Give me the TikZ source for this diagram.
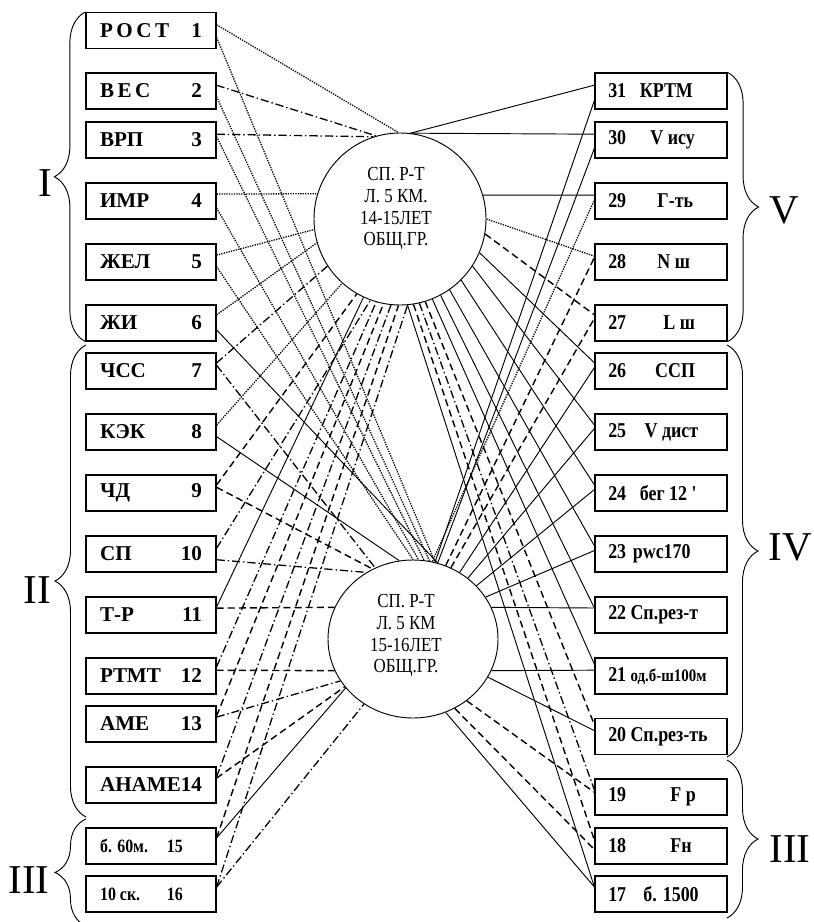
\documentclass[tikz,border=0pt]{standalone}
\usepackage{fontspec}
\setmainfont{Liberation Serif}
\newfontfamily\narrowfont[FakeStretch=0.85]{Liberation Serif}
\usetikzlibrary{shapes.geometric,decorations.pathreplacing}
\newcommand{\lefttxt}[2]{\makebox[87pt]{#1\hfill #2}}
\newcommand{\righttxt}[3]{\makebox[90pt][l]{\makebox[#1][l]{#2}#3}}

\begin{document}
\begin{tikzpicture}[x=0.03cm, y=-0.03cm,
  lbox/.style={draw, line width=1pt, minimum width=3.9cm, minimum height=1.08cm, inner sep=0pt, font=\fontsize{18}{20}\selectfont\bfseries},
  rbox/.style={draw, line width=1pt, minimum width=3.96cm, minimum height=1.08cm, inner sep=0pt, font=\narrowfont\fontsize{18}{20}\selectfont\bfseries},
  ctext/.style={align=center, inner sep=0pt, font=\narrowfont\fontsize{17}{18.5}\selectfont},
  grouplbl/.style={inner sep=0pt, font=\fontsize{35}{40}\selectfont},
  brc/.style={decorate, decoration={brace, amplitude=0.93cm}, line width=0.8pt},
  solln/.style={line width=0.8pt},
  dotln/.style={line width=1.1pt, dash pattern=on 1.1pt off 1pt},
  dashln/.style={line width=1.2pt, dash pattern=on 6pt off 3.5pt},
  ddln/.style={line width=1.1pt, dash pattern=on 7pt off 2.5pt on 1.2pt off 2.5pt}]
\useasboundingbox (0,0) rectangle (814,922);

% left column
\node[lbox] (L1) at (151,30.5) {\lefttxt{Р\,О\,С\,Т}{1}};
\node[lbox] (L2) at (151,91) {\lefttxt{В\,Е\,С}{2}};
\node[lbox] (L3) at (151,140) {\lefttxt{ВРП}{3}};
\node[lbox] (L4) at (151,201) {\lefttxt{ИМР}{4}};
\node[lbox] (L5) at (151,262) {\lefttxt{ЖЕЛ}{5}};
\node[lbox] (L6) at (151,323) {\lefttxt{ЖИ}{6}};
\node[lbox] (L7) at (151,371) {\lefttxt{ЧСС}{7}};
\node[lbox] (L8) at (151,432) {\lefttxt{КЭК}{8}};
\node[lbox] (L9) at (151,493) {\lefttxt{ЧД}{9}};
\node[lbox] (L10) at (151,554) {\lefttxt{СП}{10}};
\node[lbox] (L11) at (151,615) {\lefttxt{Т-Р}{11}};
\node[lbox] (L12) at (151,676) {\lefttxt{РТМТ}{12}};
\node[lbox] (L13) at (151,724) {\lefttxt{АМЕ}{13}};
\node[lbox] (L14) at (151,785) {\lefttxt{АНАМЕ14}{}};
\node[lbox] (L15) at (151,846) {\makebox[87pt][l]{\narrowfont\fontsize{16}{18}\selectfont\makebox[57pt][l]{б. 60м.}15}};
\node[lbox] (L16) at (151,894) {\makebox[87pt][l]{\narrowfont\fontsize{16}{18}\selectfont\makebox[57pt][l]{10 ск.}16}};

% right column
\node[rbox] (R31) at (661,91) {\righttxt{27pt}{31}{КРТМ}};
\node[rbox] (R30) at (661,140) {\righttxt{36pt}{30}{V ису}};
\node[rbox] (R29) at (661,201) {\righttxt{42pt}{29}{Г-ть}};
\node[rbox] (R28) at (661,262) {\righttxt{42pt}{28}{N ш}};
\node[rbox] (R27) at (661,323) {\righttxt{47pt}{27}{L ш}};
\node[rbox] (R26) at (661,371) {\righttxt{40pt}{26}{ССП}};
\node[rbox] (R25) at (661,432) {\righttxt{31pt}{25}{V дист}};
\node[rbox] (R24) at (661,493) {\righttxt{27pt}{24}{бег 12 '}};
\node[rbox] (R23) at (661,554) {\righttxt{21pt}{23}{pwc170}};
\node[rbox] (R22) at (661,615) {\righttxt{19pt}{22}{Сп.рез-т}};
\node[rbox] (R21) at (661,676) {\righttxt{19pt}{21}{\fontsize{15}{17}\selectfont од.б-ш100м}};
\node[rbox] (R20) at (661,736.5) {\righttxt{19pt}{20}{Сп.рез-ть}};
\node[rbox] (R19) at (661,797) {\righttxt{53pt}{19}{F р}};
\node[rbox] (R18) at (661,846) {\righttxt{53pt}{18}{Fн}};
\node[rbox] (R17) at (661,894) {\righttxt{30pt}{17}{б. 1500}};

% the two groups
\node[draw, circle, minimum size=5.16cm, inner sep=0pt, line width=0.8pt] (c1) at (400,219) {};
\node[ctext] (t1) at (396,209) {СП. Р-Т\\Л. 5 КМ.\\14-15ЛЕТ\\ОБЩ.ГР.};
\node[draw, ellipse, minimum width=5.1cm, minimum height=4.74cm, inner sep=0pt, line width=0.8pt] (c2) at (413,639) {};
\node[ctext] (t2) at (406,636) {СП. Р-Т\\Л. 5 КМ\\15-16ЛЕТ\\ОБЩ.ГР.};

% braces and group numbers
\draw[brc] (L6.south west) -- (L1.north west);
\draw[brc] (86,817) -- (86,345);
\draw[brc] (86,926) -- (86,819);
\draw[brc] (R31.north east) -- (R27.south east);
\draw[brc] (727,345) -- (727,757);
\draw[brc] (727,760) -- (727,918);
\node[grouplbl] (g1) at (45,183) {I};
\node[grouplbl] (g2) at (37,590) {II};
\node[grouplbl] (g3) at (29,880) {III};
\node[grouplbl] (g5) at (784,210) {V};
\node[grouplbl] (g4) at (790,547) {IV};
\node[grouplbl] (g6) at (790,849) {III};

% left column - upper group
\draw[dotln] (L1.5) -- (c1.91);
\draw[ddln] (L2.5) -- (c1.106);
\draw[ddln] (L3.5) -- (c1.108);
\draw[dotln] (L4.6) -- (c1.163);
\draw[dotln] (L5.6) -- (c1.187);
\draw[dotln] (L6.7) -- (c1.196);
\draw[ddln] (L7.7) -- (c1.213);
\draw[dotln] (L8.6) -- (c1.228);
\draw[dashln] (L9.7) -- (c1.240);
\draw[ddln] (L10.5) -- (c1.250);
\draw[solln] (L11.7) -- (c1.245);
\draw[ddln] (L12.8) -- (c1.254);
\draw[dashln] (L13.7) -- (c1.259);
\draw[ddln] (L14.7) -- (c1.264);
\draw[dashln] (L15.7) -- (c1.269);
\draw[ddln] (L16.6) -- (c1.275);

% left column - lower group
\draw[dotln] (L1.-6) -- (c2.74);
\draw[dotln] (L2.-5) -- (c2.78);
\draw[dotln] (L3.3) -- (c2.82);
\draw[dotln] (L4.-6) -- (c2.86);
\draw[dotln] (L5.-4) -- (c2.90);
\draw[solln] (L6.-6) -- (c2.72);
\draw[ddln] (L7.5) -- (c2.118);
\draw[solln] (L8.-4) -- (c2.100);
\draw[dashln] (L9.5) -- (c2.120);
\draw[ddln] (L10.-5) -- (c2.125);
\draw[dashln] (L11.6) -- (c2.158);
\draw[dashln] (L12.5) -- (c2.202);
\draw[ddln] (L13.6) -- (c2.210);
\draw[dashln] (L14.6) -- (c2.215);
\draw[solln] (L15.7) -- (c2.216);
\draw[ddln] (L16.6) -- (c2.233);

% right column - upper group
\draw[solln] (c1.83) -- (R31.175);
\draw[solln] (c1.83) -- (R30.175);
\draw[solln] (c1.16) -- (R29.175);
\draw[dotln] (c1.0) -- (R28.175);
\draw[dashln] (c1.350) -- (R27.173);
\draw[solln] (c1.337) -- (R26.173);
\draw[solln] (c1.327) -- (R25.174);
\draw[solln] (c1.315) -- (R24.173);
\draw[solln] (c1.305) -- (R23.173);
\draw[solln] (c1.298) -- (R22.174);
\draw[solln] (c1.292) -- (R21.170);
\draw[dashln] (c1.287) -- (R20.170);
\draw[ddln] (c1.283) -- (R19.174);
\draw[dashln] (c1.279) -- (R18.175);
\draw[solln] (c1.275) -- (R17.174);

% right column - lower group
\draw[solln] (c2.74) -- (R31.188);
\draw[solln] (c2.72) -- (R30.187);
\draw[dotln] (c2.76) -- (R29.179);
\draw[dashln] (c2.66) -- (R28.176);
\draw[dashln] (c2.62) -- (R27.176);
\draw[solln] (c2.55) -- (R26.177);
\draw[solln] (c2.48) -- (R25.177);
\draw[solln] (c2.40) -- (R24.177);
\draw[solln] (c2.30) -- (R23.177);
\draw[solln] (c2.22) -- (R22.174);
\draw[solln] (c2.338) -- (R21.175);
\draw[solln] (c2.333) -- (R20.175);
\draw[dashln] (c2.311) -- (R19.176);
\draw[dashln] (c2.301) -- (R18.183);
\draw[solln] (c2.294) -- (R17.174);
\end{tikzpicture}
\end{document}
